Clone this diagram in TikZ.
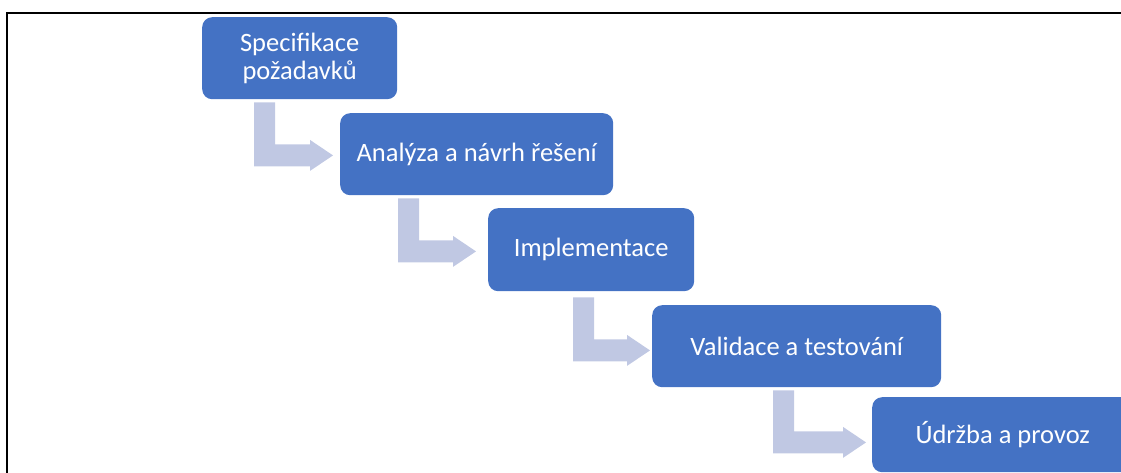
\documentclass[tikz,border=0pt]{standalone}
\usepackage{fontspec}
\setmainfont{Carlito}
\usetikzlibrary{calc}
\definecolor{boxblue}{RGB}{68,114,196}
\definecolor{arrowblue}{RGB}{192,200,227}

\tikzset{
  stage/.style={fill=boxblue, rounded corners=10pt, text=white,
    font=\fontsize{26.5}{28}\selectfont, align=center, inner sep=0pt,
    anchor=north west},
  % bent arrow: #1 = total length to the tip, #2 = height of the stem
  pics/bentarrow/.style n args={2}{code={
    \fill[arrowblue] (0,0) -- (21,0) -- (21,#2-22) -- (#1-23,#2-22)
      -- (#1-23,#2-26.5) -- (#1,#2-11) -- (#1-23,#2+4.5)
      -- (#1-23,#2) -- (0,#2) -- cycle;
  }}
}

\begin{document}
\begin{tikzpicture}[x=1pt,y=-1pt]
\useasboundingbox (0,0) rectangle (1121,473);
\clip (0,0) rectangle (1121,473);

% frame
\draw[line width=1.5pt] (7,480) -- (7,13) -- (1130,13);

% stages
\node[stage, minimum width=195pt, minimum height=82pt] (s1) at (202,17) {Specifikace\\požadavků};
\node[stage, minimum width=273pt, minimum height=82pt] (s2) at (340,113) {Analýza a návrh řešení};
\node[stage, minimum width=206pt, minimum height=83pt] (s3) at (488,208) {Implementace};
\node[stage, minimum width=289pt, minimum height=82pt] (s4) at (652,305) {Validace a testování};
\node[stage, minimum width=261pt, minimum height=75pt] (s5) at (872,397) {Údržba a provoz};

% bent arrows between stages
\pic at ($(s1.south west)+(52,3)$) {bentarrow={79}{64}};
\pic at ($(s2.south west)+(58,3)$) {bentarrow={78}{64}};
\pic at ($(s3.south west)+(85,6)$) {bentarrow={77}{64}};
\pic at ($(s4.south west)+(121,3)$) {bentarrow={93}{63}};
\end{tikzpicture}
\end{document}
